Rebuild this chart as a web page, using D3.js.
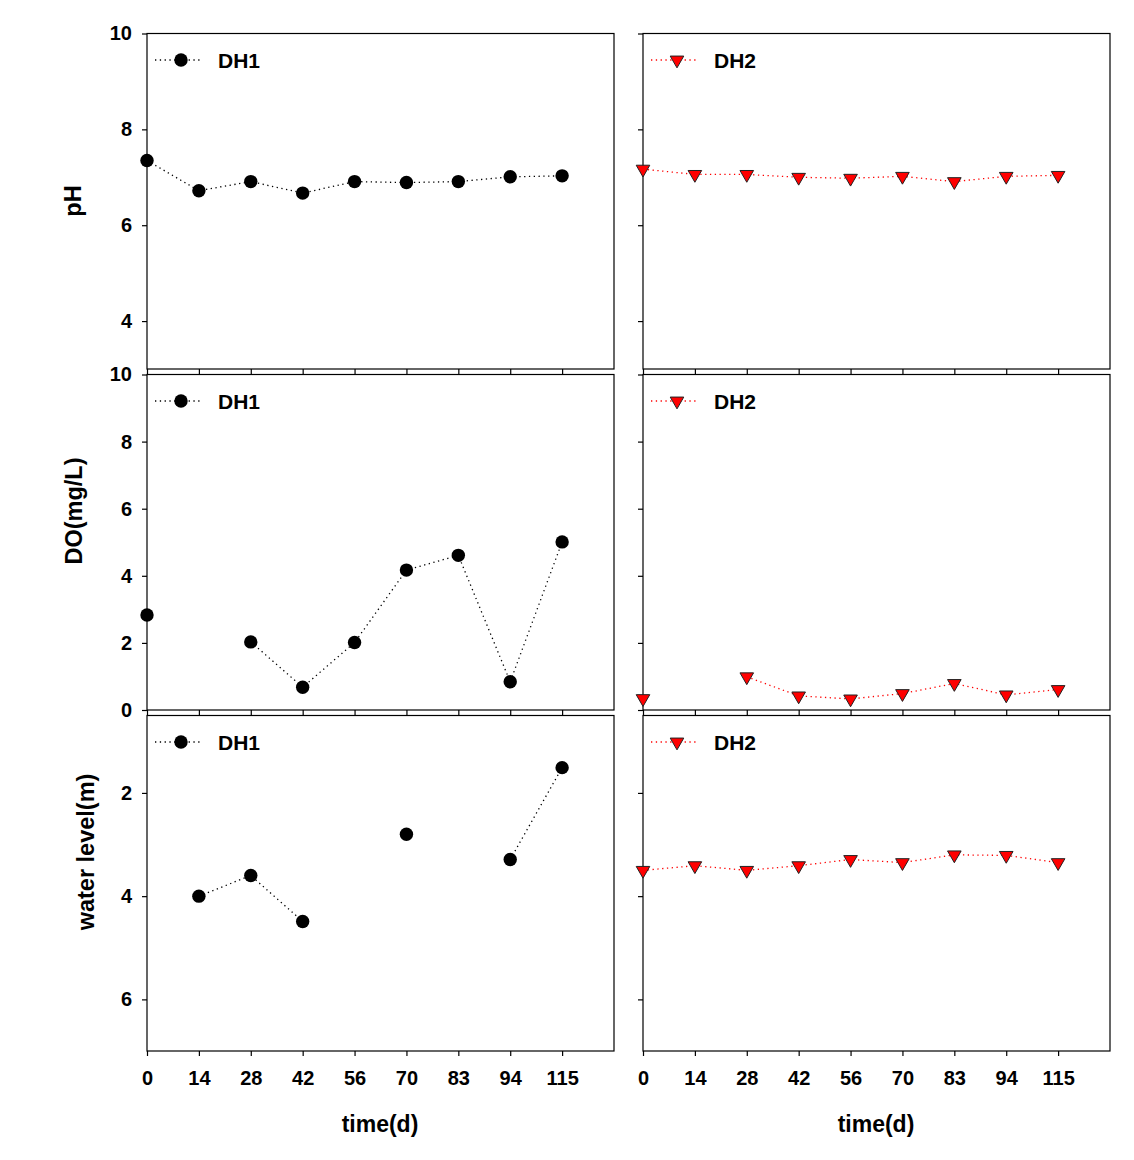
<!DOCTYPE html>
<html>
<head>
<meta charset="utf-8">
<script src="https://cdn.jsdelivr.net/npm/d3@7"></script>
<style>
  body { margin: 0; background: #fff; }
  text { font-family: "Liberation Sans", Arial, sans-serif; font-weight: bold; fill: #000; }
</style>
</head>
<body>
<svg id="chart" width="1134" height="1160"></svg>
<script>
// ---- data ----
const times = ["0", "14", "28", "42", "56", "70", "83", "94", "115"];
const phDH1 = [7.35, 6.72, 6.91, 6.67, 6.91, 6.89, 6.91, 7.01, 7.03];
const phDH2 = [7.17, 7.06, 7.06, 7.00, 6.98, 7.02, 6.91, 7.02, 7.04];
const doDH1 = [2.83, null, 2.03, 0.68, 2.01, 4.17, 4.61, 0.84, 5.01];
const doDH2 = [0.34, null, 0.99, 0.42, 0.33, 0.49, 0.79, 0.45, 0.61];
const wlDH1 = [null, 4.00, 3.60, 4.49, null, 2.80, null, 3.29, 1.51];
const wlDH2 = [3.50, 3.41, 3.50, 3.41, 3.29, 3.35, 3.20, 3.21, 3.35];
const phTicks = [4, 6, 8, 10];
const doTicks = [0, 2, 4, 6, 8, 10];
const wlTicks = [2, 4, 6];
const seriesNames = ["DH1", "DH2"];

// ---- layout ----
const svg = d3.select("#chart");
const colX = [147, 643];
const panelW = 467;
const rowY = [33.5, 374.5, 715.5];
const panelH = 335.5;

const rows = [
  { title: "pH", domain: [3, 10], ticks: phTicks, data: [phDH1, phDH2], titleY: 201, titleX: 81 },
  { title: "DO(mg/L)", domain: [0, 10], ticks: doTicks, data: [doDH1, doDH2], titleY: 511, titleX: 82 },
  { title: "water level(m)", domain: [7, 0.5], ticks: wlTicks, data: [wlDH1, wlDH2], titleY: 852, titleX: 94 }
];

const triSym = d3.symbol().type(d3.symbolTriangle).size(80);

function drawMarker(g, c, x, y) {
  if (c === 0) {
    g.append("circle").attr("cx", x).attr("cy", y).attr("r", 6.7).attr("fill", "#000");
  } else {
    g.append("path").attr("d", triSym())
      .attr("transform", `translate(${x},${y}) rotate(180)`)
      .attr("fill", "#ff0000").attr("stroke", "#222").attr("stroke-width", 1);
  }
}

rows.forEach((row, r) => {
  [0, 1].forEach(c => {
    const x0 = colX[c], y0 = rowY[r];
    const x = d3.scaleLinear().domain([0, 9]).range([x0, x0 + panelW]);
    const y = d3.scaleLinear().domain(row.domain).range([y0 + panelH, y0]);
    const g = svg.append("g");

    // frame
    g.append("rect").attr("x", x0).attr("y", y0).attr("width", panelW).attr("height", panelH)
      .attr("fill", "none").attr("stroke", "#000").attr("stroke-width", 1.2);

    // y axis
    const yAxis = d3.axisLeft(y).tickValues(row.ticks).tickSize(5).tickPadding(10)
      .tickFormat(c === 0 ? d3.format("d") : () => "");
    const ya = g.append("g").attr("transform", `translate(${x0},0)`).call(yAxis);
    ya.select(".domain").remove();
    ya.selectAll("line").attr("stroke", "#000").attr("stroke-width", 1.2);
    ya.selectAll("text").style("font-size", "20px").attr("fill", "#000");

    // x axis
    const xAxis = d3.axisBottom(x).tickValues(d3.range(times.length)).tickSize(5).tickPadding(15)
      .tickFormat(i => r === 2 ? times[i] : "");
    const xa = g.append("g").attr("transform", `translate(0,${y0 + panelH})`).call(xAxis);
    xa.select(".domain").remove();
    xa.selectAll("line").attr("stroke", "#000").attr("stroke-width", 1.2);
    xa.selectAll("text").style("font-size", "20px").attr("fill", "#000");

    // data line
    const vals = row.data[c];
    const pts = vals.map((v, i) => ({ i, v }));
    const color = c === 0 ? "#000" : "#ff0000";
    const line = d3.line().defined(d => d.v != null).x(d => x(d.i)).y(d => y(d.v));
    g.append("path").attr("d", line(pts)).attr("fill", "none")
      .attr("stroke", color).attr("stroke-width", 1.3).attr("stroke-dasharray", "1.3,3.5");

    pts.filter(d => d.v != null).forEach(d => drawMarker(g, c, x(d.i), y(d.v)));

    // legend
    const ly = y0 + 26.5;
    const lx = x0 + 8;
    g.append("line").attr("x1", lx).attr("x2", lx + 48).attr("y1", ly).attr("y2", ly)
      .attr("stroke", color).attr("stroke-width", 1.3).attr("stroke-dasharray", "1.3,3.5");
    drawMarker(g, c, lx + 26, ly);
    g.append("text").attr("x", x0 + 71).attr("y", ly + 7.5).style("font-size", "21px")
      .text(seriesNames[c]);

    if (r === 2) {
      g.append("text").attr("x", x0 + 233).attr("y", 1132).attr("text-anchor", "middle")
        .style("font-size", "23px").text("time(d)");
    }
  });

  svg.append("text")
    .attr("transform", `translate(${row.titleX},${row.titleY}) rotate(-90)`)
    .attr("text-anchor", "middle").style("font-size", "23.5px").text(row.title);
});
</script>
</body>
</html>
